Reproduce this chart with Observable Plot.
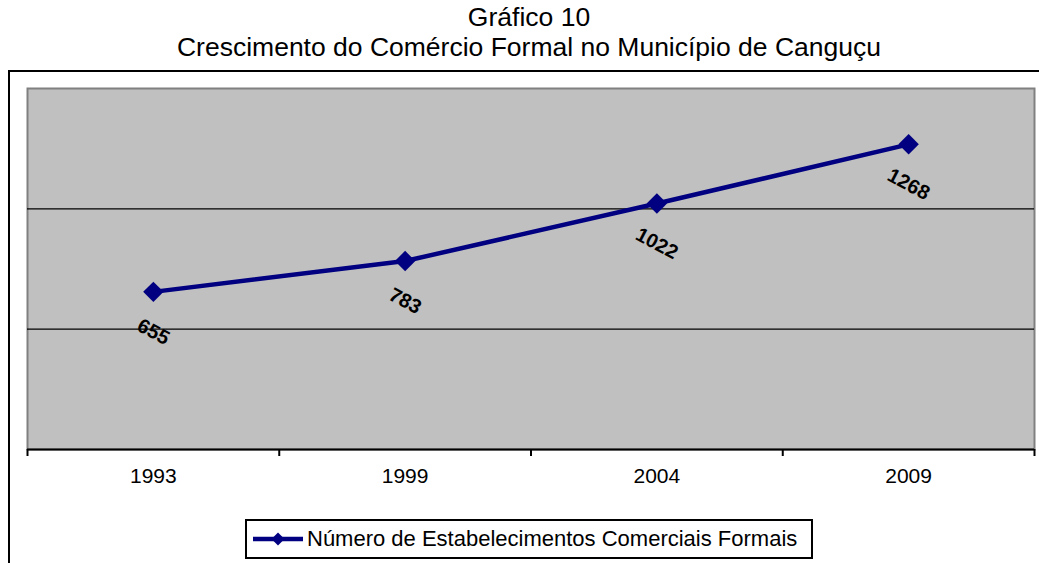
<!DOCTYPE html>
<html>
<head>
<meta charset="utf-8">
<script src="https://cdn.jsdelivr.net/npm/d3@7"></script>
<script src="https://cdn.jsdelivr.net/npm/@observablehq/plot@0.6"></script>
<style>
  html, body { margin: 0; padding: 0; background: #fff; }
  body { width: 1039px; height: 563px; position: relative; overflow: hidden;
         font-family: "Liberation Sans", Arial, sans-serif; color: #000; }
  .title { position: absolute; left: 529px; transform: translateX(-50%); white-space: nowrap;
           font-size: 26.5px; line-height: 26px; }
  #frame { position: absolute; left: 8px; top: 70px; width: 1100px; height: 600px;
           border-left: 2px solid #000; border-top: 2px solid #000; }
  #chart { position: absolute; left: 0; top: 70px; }
  #legend { position: absolute; left: 245px; top: 519px; width: 568px; height: 40px;
            box-sizing: border-box; border: 2px solid #000; background: #fff;
            display: flex; align-items: center; padding-left: 6px; font-size: 22px; white-space: nowrap; }
  #legend svg { margin-right: 4px; flex: none; }
</style>
</head>
<body>
<div class="title" style="top:4px">Gráfico 10</div>
<div class="title" style="top:34px">Crescimento do Comércio Formal no Município de Canguçu</div>
<div id="frame"></div>
<div id="chart"></div>
<div id="legend"></div>
<script>
// ---- data ----
const years = ["1993", "1999", "2004", "2009"];
const values = [655, 783, 1022, 1268];
const seriesName = "Número de Estabelecimentos Comerciais Formais";
const yDomain = [0, 1500];
const yGrid = [500, 1000];

const navy = "#000080";
const data = years.map((year, i) => ({year, pos: i + 0.5, value: values[i]}));
const xBoundaries = d3.range(years.length + 1);

const chart = Plot.plot({
  width: 1039,
  height: 435,
  marginTop: 18,
  marginBottom: 56,
  marginLeft: 27,
  marginRight: 5,
  style: {fontFamily: '"Liberation Sans", Arial, sans-serif', background: "transparent", overflow: "visible"},
  x: {type: "linear", domain: [0, years.length], axis: null},
  y: {domain: yDomain, axis: null},
  marks: [
    Plot.frame({fill: "#C0C0C0", stroke: "#808080", strokeWidth: 2}),
    Plot.gridY(yGrid, {stroke: "#000", strokeOpacity: 1, strokeWidth: 1.2}),
    Plot.ruleY([yDomain[0]], {stroke: "#000", strokeWidth: 2}),
    Plot.axisX({ticks: xBoundaries, tickSize: 7, tickFormat: () => "", stroke: "#000", strokeWidth: 2, label: null}),
    Plot.text(data, {x: "pos", text: "year", frameAnchor: "bottom", dy: 33, fontSize: 21, fill: "#000"}),
    Plot.line(data, {x: "pos", y: "value", stroke: navy, strokeWidth: 4.5}),
    Plot.dot(data, {x: "pos", y: "value", symbol: "diamond2", r: 9.2, fill: navy, stroke: "none"}),
    Plot.text(data, {x: "pos", y: "value", text: d => String(d.value), dy: 40, rotate: 28,
                     fontSize: 20, fontWeight: "bold", fill: "#000"})
  ]
});
document.getElementById("chart").appendChild(chart);

// legend
const legend = document.getElementById("legend");
legend.innerHTML =
  `<svg width="50" height="16" viewBox="0 0 50 16">
     <line x1="0" y1="8" x2="50" y2="8" stroke="${navy}" stroke-width="4.5"/>
     <polygon points="25,1.5 31.5,8 25,14.5 18.5,8" fill="${navy}"/>
   </svg><span></span>`;
legend.querySelector("span").textContent = seriesName;
</script>
</body>
</html>
